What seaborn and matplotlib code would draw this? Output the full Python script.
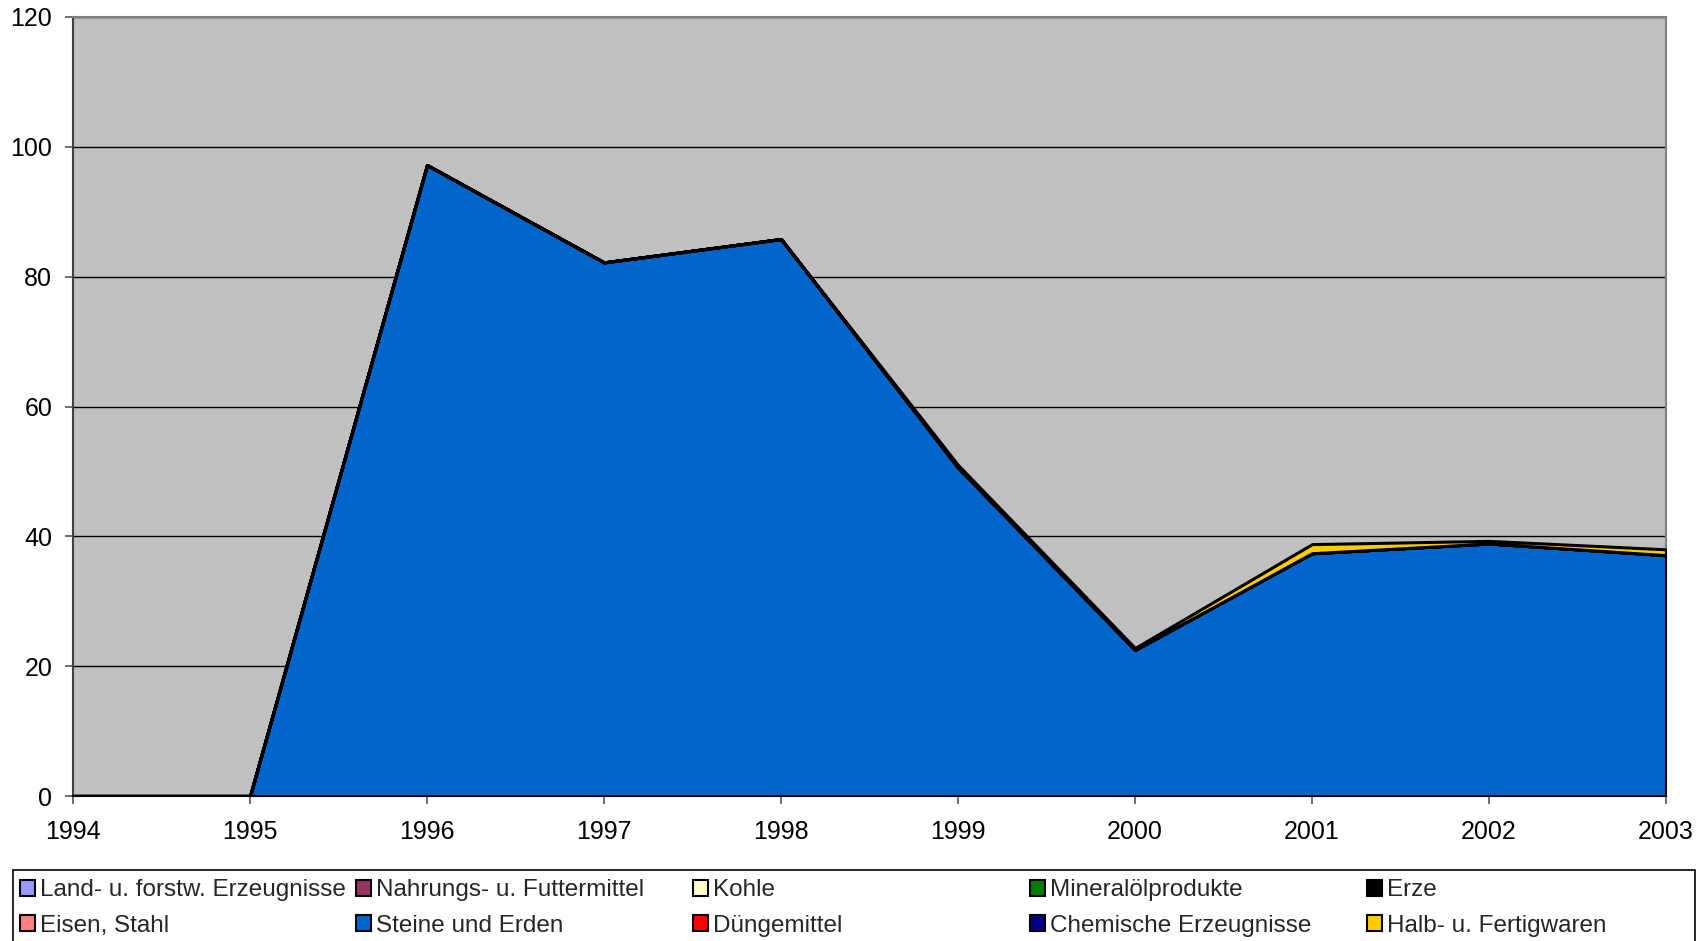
import numpy as np
import pandas as pd
import matplotlib
matplotlib.use("Agg")
import matplotlib.pyplot as plt
from matplotlib.patches import Patch, Rectangle
import seaborn as sns

# --- data -------------------------------------------------------------
years = [1994, 1995, 1996, 1997, 1998, 1999, 2000, 2001, 2002, 2003]

land_forst = [0, 0, 0, 0, 0, 0, 0, 0, 0, 0]
nahrung = [0, 0, 0, 0, 0, 0, 0, 0, 0, 0]
kohle = [0, 0, 0, 0, 0, 0, 0, 0, 0, 0]
mineraloel = [0, 0, 0, 0, 0, 0, 0, 0, 0, 0]
erze = [0, 0, 0, 0, 0, 0, 0, 0, 0, 0]
eisen_stahl = [0, 0, 0, 0, 0, 0, 0, 0, 0, 0]
steine_erden = [0, 0, 97.2, 82.2, 85.8, 50.6, 22.5, 37.4, 38.9, 37.1]
duengemittel = [0, 0, 0, 0, 0, 0, 0, 0, 0, 0]
chemie = [0, 0, 0, 0, 0, 0, 0, 0, 0, 0]
halb_fertig = [0, 0, 0, 0, 0, 0.4, 0.3, 1.4, 0.4, 0.9]

series_names = [
    "Land- u. forstw. Erzeugnisse", "Nahrungs- u. Futtermittel", "Kohle",
    "Mineralölprodukte", "Erze", "Eisen, Stahl", "Steine und Erden",
    "Düngemittel", "Chemische Erzeugnisse", "Halb- u. Fertigwaren",
]
series_values = [land_forst, nahrung, kohle, mineraloel, erze, eisen_stahl,
                 steine_erden, duengemittel, chemie, halb_fertig]
series_colors = ["#9999FF", "#993366", "#FFFFCC", "#008000", "#000000",
                 "#FF8080", "#0066CC", "#FF0000", "#000080", "#FFCC00"]

y_ticks = [0, 20, 40, 60, 80, 100, 120]

df = pd.DataFrame({name: vals for name, vals in zip(series_names, series_values)},
                  index=years)

# --- style ------------------------------------------------------------
sns.set_theme(style="white")
plt.rcParams["font.family"] = ["Liberation Sans", "DejaVu Sans"]

W, H = 1704, 941
fig = plt.figure(figsize=(W / 100, H / 100), dpi=100)
ax = fig.add_axes([73 / W, 1 - 796 / H, (1666 - 73) / W, (796 - 17) / H])
ax.set_facecolor("#C0C0C0")

ax.stackplot(df.index, *[df[c].values for c in df.columns],
             colors=series_colors, edgecolor="black", linewidth=2.2, zorder=3)

ax.set_xlim(years[0], years[-1])
ax.set_ylim(y_ticks[0], y_ticks[-1])
ax.set_xticks(years)
ax.set_xticklabels([str(y) for y in years])
ax.set_yticks(y_ticks)
ax.yaxis.grid(True, color="black", linewidth=1, zorder=1)
ax.xaxis.grid(False)
ax.set_axisbelow(True)

ax.tick_params(axis="both", which="major", labelsize=18, colors="#555555",
               labelcolor="black", direction="out", length=6, width=1.2,
               left=True, bottom=True)
ax.tick_params(axis="y", pad=9)
ax.tick_params(axis="x", pad=11)

for side, col in [("left", "#404040"), ("bottom", "black"),
                  ("top", "#808080"), ("right", "#808080")]:
    ax.spines[side].set_visible(True)
    ax.spines[side].set_color(col)
    ax.spines[side].set_linewidth(1.5)

# --- legend: five evenly spaced columns of two rows -------------------
handles = [Patch(facecolor=c, edgecolor="black", linewidth=1.5)
           for c in series_colors]
col_x = [20, 356, 693, 1030, 1367]
for i, x in enumerate(col_x):
    idx = [i, i + 5]
    fig.legend([handles[j] for j in idx], [series_names[j] for j in idx],
               loc="center left", bbox_to_anchor=(x / W, 1 - 908 / H),
               frameon=False, fontsize=17.5, handlelength=0.62,
               handleheight=0.62, handletextpad=0.2, labelspacing=0.55,
               borderpad=0, borderaxespad=0)

fig.patches.append(Rectangle((13 / W, -0.02), (1695 - 13) / W, 0.02 + 1 - 870 / H,
                             transform=fig.transFigure, facecolor="none",
                             edgecolor="black", linewidth=1.2))

fig.savefig("out.png", dpi=100, facecolor="white")
